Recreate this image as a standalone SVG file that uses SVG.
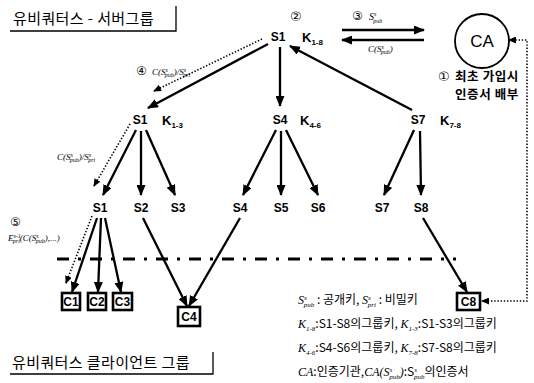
<svg xmlns="http://www.w3.org/2000/svg" width="534" height="383" viewBox="0 0 534 383">
<defs>
<style>
.s{font-family:"Liberation Sans",Arial,sans-serif;font-weight:bold;font-size:12px;text-anchor:middle;fill:#000}
.k{font-family:"Liberation Sans",Arial,sans-serif;font-weight:bold;font-size:13px;fill:#000}
.kr{font-family:"Noto Sans CJK KR",sans-serif;fill:#000}
.cd{font-family:"DejaVu Sans",sans-serif;fill:#000}
.m{font-family:"Liberation Serif","Times New Roman",serif;font-style:italic;fill:#000}
.ln{fill:none;stroke:#000;stroke-width:2.3}
.dot{fill:none;stroke:#000;stroke-width:1.6;stroke-dasharray:1.4 1.8}
.box{fill:#fff;stroke:#000;stroke-width:2.6}
.frame{fill:none;stroke:#000;stroke-width:1.3}
</style>
<marker id="ah" markerUnits="userSpaceOnUse" markerWidth="11" markerHeight="9" refX="10" refY="4.5" orient="auto">
<path d="M0,0 L11,4.5 L0,9 z" fill="#000"/>
</marker>
<marker id="dh" markerUnits="userSpaceOnUse" markerWidth="8" markerHeight="7" refX="7" refY="3.5" orient="auto-start-reverse">
<path d="M0,0 L8,3.5 L0,7 z" fill="#000"/>
</marker>
</defs>
<rect width="534" height="383" fill="#fff"/>

<g id="title-server">
<text class="kr" x="13" y="24" font-size="15" letter-spacing="0.4">유비쿼터스 - 서버그룹</text>
<path class="frame" d="M10,31 H176 V6"/>
</g>
<g id="title-client">
<text class="kr" x="12" y="368" font-size="15" letter-spacing="0.4">유비쿼터스 클라이언트 그룹</text>
<path class="frame" d="M10,374 H213 V352"/>
</g>

<g id="connectors">
<line class="ln" x1="268" y1="44" x2="148" y2="108" marker-end="url(#ah)"/>
<line class="ln" x1="280" y1="47" x2="280" y2="106" marker-end="url(#ah)"/>
<line class="ln" x1="412" y1="110" x2="290" y2="46" marker-end="url(#ah)"/>
<line class="ln" x1="342" y1="30" x2="424" y2="30" marker-end="url(#ah)"/>
<line class="ln" x1="424" y1="40" x2="342" y2="40" marker-end="url(#ah)"/>
<line class="ln" x1="136" y1="130" x2="103" y2="195" marker-end="url(#ah)"/>
<line class="ln" x1="141" y1="131" x2="141" y2="195" marker-end="url(#ah)"/>
<line class="ln" x1="146" y1="130" x2="175" y2="195" marker-end="url(#ah)"/>
<line class="ln" x1="276" y1="130" x2="243" y2="195" marker-end="url(#ah)"/>
<line class="ln" x1="281" y1="131" x2="281" y2="195" marker-end="url(#ah)"/>
<line class="ln" x1="286" y1="130" x2="318" y2="195" marker-end="url(#ah)"/>
<line class="ln" x1="414" y1="130" x2="384" y2="195" marker-end="url(#ah)"/>
<line class="ln" x1="420" y1="131" x2="421" y2="195" marker-end="url(#ah)"/>
<line class="ln" x1="97" y1="218" x2="72" y2="292" marker-end="url(#ah)"/>
<line class="ln" x1="101" y1="218" x2="98" y2="292" marker-end="url(#ah)"/>
<line class="ln" x1="105" y1="218" x2="121" y2="292" marker-end="url(#ah)"/>
<line class="ln" x1="143" y1="218" x2="187" y2="306" marker-end="url(#ah)"/>
<line class="ln" x1="240" y1="218" x2="189" y2="306" marker-end="url(#ah)"/>
<line class="ln" x1="423" y1="218" x2="467" y2="292" marker-end="url(#ah)"/>
<line class="dot" x1="262" y1="39" x2="154" y2="91" marker-end="url(#dh)"/>
<line class="dot" x1="130" y1="124" x2="94" y2="186" marker-end="url(#dh)"/>
<line class="dot" x1="92" y1="216" x2="66" y2="283" marker-end="url(#dh)"/>
<path class="dot" d="M509,40 H527 V301 H482" marker-start="url(#dh)" marker-end="url(#dh)"/>
<line x1="57" y1="259" x2="456" y2="259" stroke="#000" stroke-width="3.2" stroke-dasharray="12 9 3 9"/>
</g>

<g id="S1top"><text class="s" x="278" y="41">S1</text>
<text class="cd" x="290" y="21" font-size="13">②</text>
<text class="k" x="302" y="42">K<tspan font-size="8" dy="3">1-8</tspan></text></g>

<g id="CA"><circle cx="482" cy="41" r="27" fill="#fff" stroke="#000" stroke-width="1.8"/>
<text x="482" y="47" font-family="Liberation Sans,Arial,sans-serif" font-size="17" text-anchor="middle">CA</text></g>

<g id="S1mid"><text class="s" x="140" y="124">S1</text>
<text class="k" x="162" y="125">K<tspan font-size="8" dy="3">1-3</tspan></text></g>
<g id="S4mid"><text class="s" x="280" y="124">S4</text>
<text class="k" x="300" y="125">K<tspan font-size="8" dy="3">4-6</tspan></text></g>
<g id="S7mid"><text class="s" x="418" y="124">S7</text>
<text class="k" x="440" y="125">K<tspan font-size="8" dy="3">7-8</tspan></text></g>

<g id="S1"><text class="s" x="100" y="212">S1</text></g>
<g id="S2"><text class="s" x="141" y="212">S2</text></g>
<g id="S3"><text class="s" x="178" y="212">S3</text></g>
<g id="S4"><text class="s" x="240" y="212">S4</text></g>
<g id="S5"><text class="s" x="281" y="212">S5</text></g>
<g id="S6"><text class="s" x="318" y="212">S6</text></g>
<g id="S7"><text class="s" x="382" y="212">S7</text></g>
<g id="S8"><text class="s" x="421" y="212">S8</text></g>

<g id="C1"><rect class="box" x="62" y="293" width="18" height="17"/><text class="s" x="71" y="306">C1</text></g>
<g id="C2"><rect class="box" x="88" y="293" width="18" height="17"/><text class="s" x="97" y="306">C2</text></g>
<g id="C3"><rect class="box" x="113" y="293" width="19" height="17"/><text class="s" x="122.5" y="306">C3</text></g>
<g id="C4"><rect class="box" x="178" y="307" width="22" height="19"/><text class="s" x="189" y="321">C4</text></g>
<g id="C8"><rect class="box" x="457" y="293" width="23" height="17"/><text class="s" x="468.5" y="306">C8</text></g>

<g id="labels">
<text class="cd" x="352" y="20" font-size="12">③</text>
<text class="m" x="369" y="20" font-size="10">S<tspan font-size="6" dy="-4">s</tspan><tspan font-size="6" dx="-3" dy="7">pub</tspan></text>
<text class="m" x="368" y="52" font-size="9">C(S<tspan font-size="6" dy="-3">s</tspan><tspan font-size="6" dx="-3" dy="5">pub</tspan><tspan dy="-2">)</tspan></text>
<text class="cd" x="438" y="81" font-size="13">①</text>
<text class="kr" x="455" y="81" font-size="12.5" font-weight="bold" letter-spacing="0.6">최초 가입시</text>
<text class="kr" x="455" y="99" font-size="12.5" font-weight="bold" letter-spacing="0.6">인증서 배부</text>
<text class="cd" x="136" y="75" font-size="12">④</text>
<text class="m" x="152" y="75" font-size="9">C(S<tspan font-size="6" dy="-3">s</tspan><tspan font-size="6" dx="-3" dy="5">pub</tspan><tspan dy="-2">)/S</tspan><tspan font-size="6" dy="-3">s</tspan><tspan font-size="6" dx="-3" dy="5">pri</tspan></text>
<text class="m" x="57" y="160" font-size="9">C(S<tspan font-size="6" dy="-3">s</tspan><tspan font-size="6" dx="-3" dy="5">pub</tspan><tspan dy="-2">)/S</tspan><tspan font-size="6" dy="-3">s</tspan><tspan font-size="6" dx="-3" dy="5">pri</tspan></text>
<text class="cd" x="10" y="226" font-size="12">⑤</text>
<text class="m" x="8" y="241" font-size="9">E<tspan font-size="6" dy="-3">s-1</tspan><tspan font-size="6" dx="-8" dy="5">pri</tspan><tspan dy="-2">(C(S</tspan><tspan font-size="6" dy="-3">s</tspan><tspan font-size="6" dx="-3" dy="5">pub</tspan><tspan dy="-2">),...)</tspan></text>
</g>

<g id="legend">
<text x="298" y="304" font-size="12"><tspan class="m">S</tspan><tspan class="m" font-size="7" dy="-4">s</tspan><tspan class="m" font-size="7" dx="-3" dy="7">pub</tspan><tspan class="kr" dy="-3"> : 공개키, </tspan><tspan class="m">S</tspan><tspan class="m" font-size="7" dy="-4">s</tspan><tspan class="m" font-size="7" dx="-3" dy="7">pri</tspan><tspan class="kr" dy="-3"> : 비밀키</tspan></text>
<text x="298" y="328" font-size="12"><tspan class="m">K</tspan><tspan class="m" font-size="7" dy="3">1-8</tspan><tspan class="kr" dy="-3">:S1-S8의그룹키, </tspan><tspan class="m">K</tspan><tspan class="m" font-size="7" dy="3">1-3</tspan><tspan class="kr" dy="-3">:S1-S3의그룹키</tspan></text>
<text x="298" y="352" font-size="12"><tspan class="m">K</tspan><tspan class="m" font-size="7" dy="3">4-6</tspan><tspan class="kr" dy="-3">:S4-S6의그룹키, </tspan><tspan class="m">K</tspan><tspan class="m" font-size="7" dy="3">7-8</tspan><tspan class="kr" dy="-3">:S7-S8의그룹키</tspan></text>
<text x="298" y="376" font-size="12"><tspan class="m">CA</tspan><tspan class="kr">:인증기관,</tspan><tspan class="m">CA(S</tspan><tspan class="m" font-size="7" dy="-4">s</tspan><tspan class="m" font-size="7" dx="-3" dy="7">pub</tspan><tspan class="m" dy="-3">)</tspan><tspan class="kr">:S</tspan><tspan class="m" font-size="7" dy="-4">s</tspan><tspan class="m" font-size="7" dx="-3" dy="7">pub</tspan><tspan class="kr" dy="-3">의인증서</tspan></text>
</g>
</svg>
